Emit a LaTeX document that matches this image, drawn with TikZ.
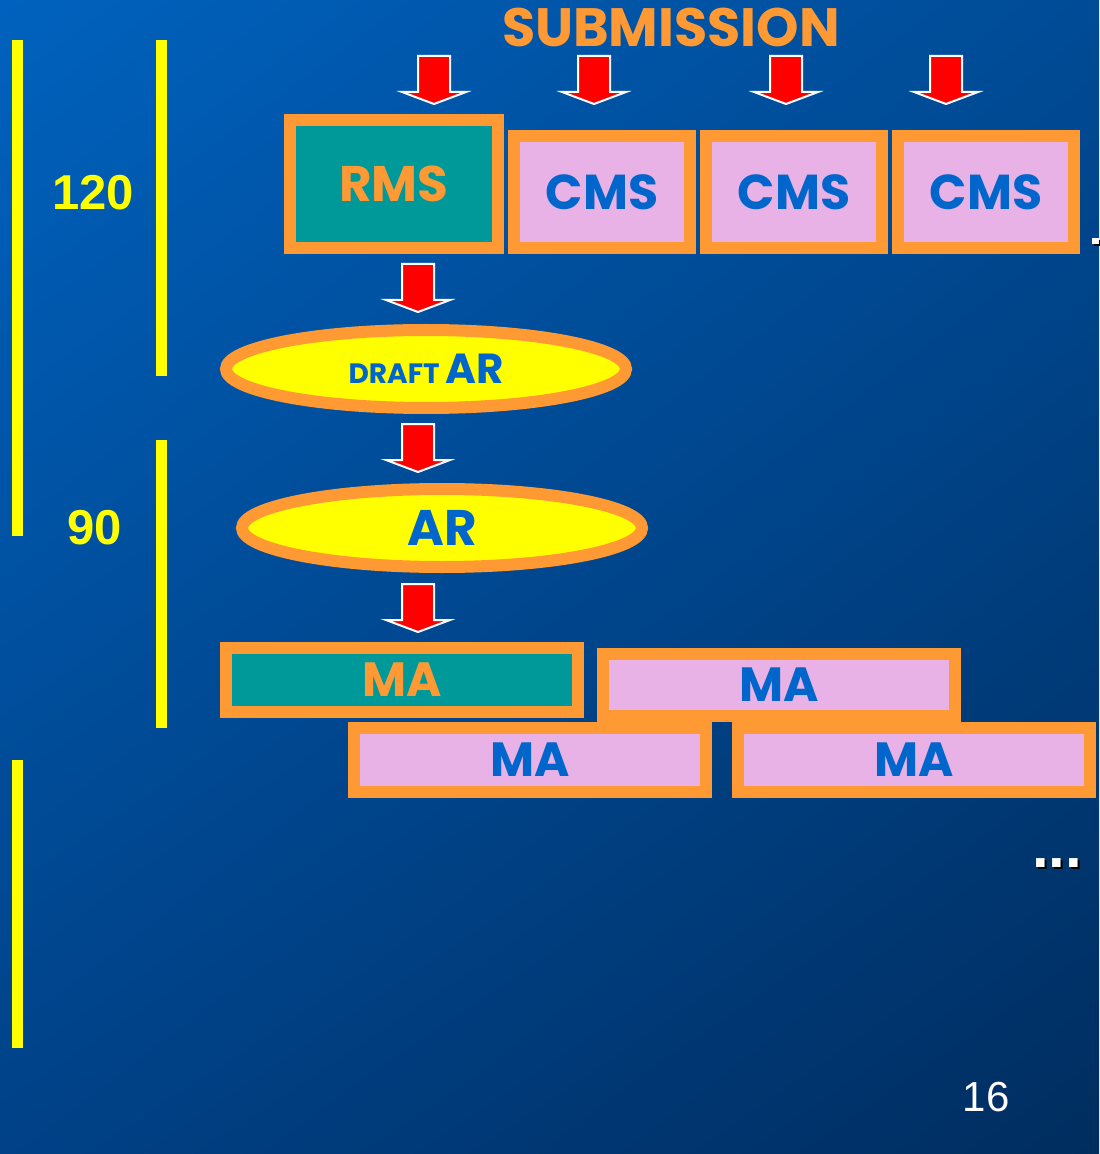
\documentclass[tikz,border=0pt]{standalone}
\usepackage{fontspec}
\setmainfont{Liberation Sans}
\newfontfamily\comicfont{Poppins}
\usetikzlibrary{shapes.geometric,shadings}

\definecolor{slideorange}{RGB}{255,153,51}
\definecolor{slideteal}{RGB}{0,153,153}
\definecolor{slidepink}{RGB}{233,178,230}
\definecolor{slideblue}{RGB}{0,102,204}
\definecolor{slideyellow}{RGB}{255,255,0}
\definecolor{slidered}{RGB}{255,0,0}
\definecolor{bgtl}{RGB}{0,98,190}
\definecolor{bgtr}{RGB}{0,75,150}
\definecolor{bgbl}{RGB}{0,65,135}
\definecolor{bgbr}{RGB}{0,45,95}

\tikzset{
  box/.style={draw=slideorange, line width=6pt, inner sep=0pt},
  rmsbox/.style={box, fill=slideteal, text=slideorange},
  cmsbox/.style={box, fill=slidepink, text=slideblue},
  arbox/.style={ellipse, draw=slideorange, line width=6pt, fill=slideyellow,
    text=slideblue, inner sep=0pt, minimum width=200pt, minimum height=39pt},
  big/.style={font=\comicfont\bfseries\fontsize{#1}{#1}\selectfont},
  days/.style={text=slideyellow, font=\bfseries\fontsize{24.5}{24.5}\selectfont},
  drop/.pic={
    \filldraw[fill=slidered, draw=white, line width=1pt]
      (-16,0) -- (16,0) -- (16,36) -- (32,36) -- (0,48) -- (-32,36) -- (-16,36) -- cycle;
  }
}

\begin{document}
\begin{tikzpicture}[x=0.5pt, y=-0.5pt]
% background
\shade[upper left=bgtl, upper right=bgtr, lower left=bgbl, lower right=bgbr]
  (0,0) rectangle (1099,1154);
\useasboundingbox (0,0) rectangle (1099,1154);

% time bars
\fill[slideyellow] (12,40) rectangle (23,536);
\fill[slideyellow] (12,760) rectangle (23,1048);
\fill[slideyellow] (156,40) rectangle (167,376);
\fill[slideyellow] (156,440) rectangle (167,728);
\node[days] (d120) at (93,193) {120};
\node[days] (d90) at (95,528) {90};

\node[big=27, text=slideorange] (submission) at (671,27) {SUBMISSION};
\pic at (434,56) {drop};
\pic at (594,56) {drop};
\pic at (786,56) {drop};
\pic at (946,56) {drop};

\node[rmsbox, big=25, minimum width=104pt, minimum height=64pt] (rms) at (394,184) {RMS};
\node[cmsbox, big=24.5, minimum width=88pt, minimum height=56pt] (cms1) at (602,192) {CMS};
\node[cmsbox, big=24.5, minimum width=88pt, minimum height=56pt] (cms2) at (794,192) {CMS};
\node[cmsbox, big=24.5, minimum width=88pt, minimum height=56pt] (cms3) at (986,192) {CMS};
\fill[black] (1094,240) rectangle (1101,246);
\fill[white] (1092,238) rectangle (1099,244);

\pic at (418,264) {drop};
\node[arbox] (draft) at (426,369) {{\comicfont\bfseries\fontsize{14}{14}\selectfont DRAFT} {\comicfont\bfseries\fontsize{21}{21}\selectfont AR}};
\pic at (418,424) {drop};
\node[arbox, big=25] (ar) at (442,528) {AR};
\pic at (418,584) {drop};

\node[rmsbox, big=24, minimum width=176pt, minimum height=32pt] (ma1) at (402,680) {MA};
\node[cmsbox, big=24, minimum width=176pt, minimum height=31pt] (ma2) at (779,685) {MA};
\node[cmsbox, big=24, minimum width=176pt, minimum height=32pt] (ma3) at (530,760) {MA};
\node[cmsbox, big=24, minimum width=176pt, minimum height=32pt] (ma4) at (914,760) {MA};

\node[text=black, font=\bfseries\fontsize{30}{30}\selectfont] (moreshadow) at (1059,865) {...};
\node[text=white, font=\bfseries\fontsize{30}{30}\selectfont] (more) at (1057,863) {...};
\node[text=white, font=\fontsize{21}{21}\selectfont] (page) at (986,1097) {16};
\end{tikzpicture}
\end{document}
